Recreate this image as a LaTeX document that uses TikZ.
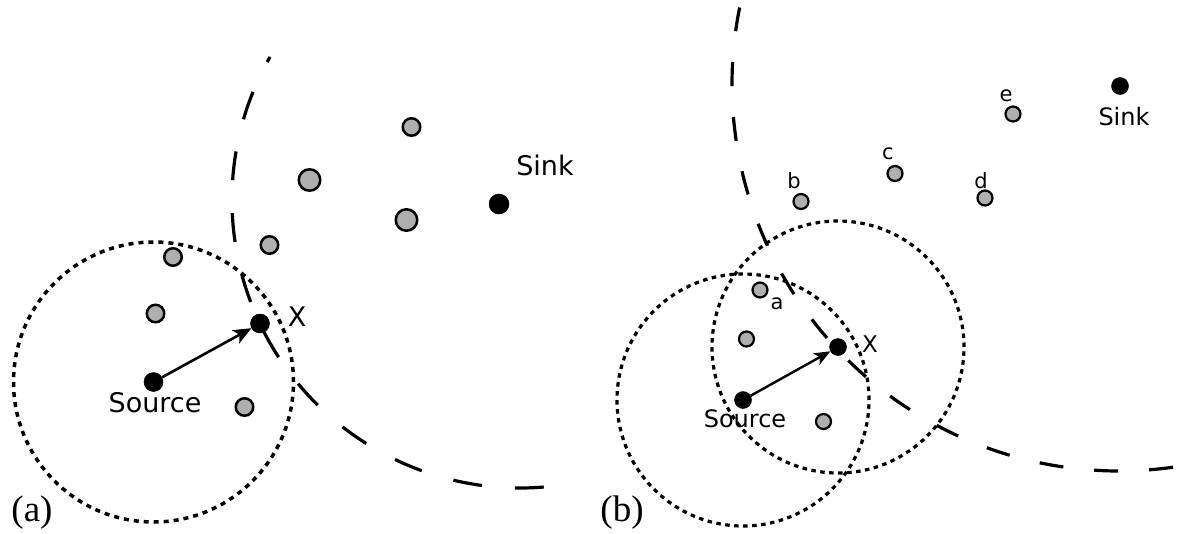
\documentclass[tikz,border=0pt]{standalone}
\usepackage{fontspec}
\setmainfont{DejaVu Sans}
\newfontfamily\capfont{Liberation Serif}
\usetikzlibrary{arrows.meta,calc}
\definecolor{nodegray}{RGB}{175,175,175}
\begin{document}
\begin{tikzpicture}[x=1pt,y=1pt,
  gnode/.style={circle,draw=black,line width=2.5pt,fill=nodegray,inner sep=0pt,minimum size=#1},
  gnode/.default=17.5pt,
  bnode/.style={circle,fill=black,draw=black,line width=0.5pt,inner sep=0pt,minimum size=#1},
  bnode/.default=19pt,
  lblA/.style={inner sep=0pt,font=\fontsize{27}{27}\selectfont},
  lblB/.style={inner sep=0pt,font=\fontsize{24}{24}\selectfont},
  lblS/.style={inner sep=0pt,font=\fontsize{21}{21}\selectfont},
  capt/.style={inner sep=0pt,font=\capfont\fontsize{37}{37}\selectfont},
  dotcirc/.style={line width=3.5pt,dash pattern=on 5pt off 5pt},
  dotcircB/.style={line width=3.2pt,dash pattern=on 4.5pt off 4.5pt},
  dasharc/.style={line width=3.2pt,dash pattern=on 29pt off 33pt,dash phase=23pt},
  dasharcB/.style={line width=3.2pt,dash pattern=on 24pt off 31pt},
  arr/.style={line width=2.6pt,-{Stealth[length=18pt,width=15pt,inset=4.5pt]}},
  arrB/.style={line width=2.4pt,-{Stealth[length=16pt,width=13pt,inset=4pt]}}
]
\clip (0,0) rectangle (1178,-533);
\fill[white] (0,0) rectangle (1178,-533);

% ---------------- panel (a) ----------------
\coordinate (cA) at (520,-200);
\coordinate (sA) at (153.5,-382);
\draw[dotcirc] (sA) circle[radius=140pt];
\draw[dasharc] ($(cA)+(150.2:288pt)$) arc[start angle=150.2,end angle=275,radius=288pt];

\node[gnode] (a1) at (411.5,-127) {};
\node[gnode=21.5pt] (a2) at (309.5,-180) {};
\node[gnode=21.5pt] (a3) at (406.5,-220) {};
\node[gnode] (a4) at (269.5,-245) {};
\node[gnode] (a5) at (173,-257) {};
\node[gnode] (a6) at (155.5,-313.5) {};
\node[gnode] (a7) at (244.5,-407) {};
\node[bnode] (srcA) at (sA) {};
\node[bnode] (xA) at (260,-323.5) {};
\node[bnode=20pt] (sinkA) at (499,-204) {};
\draw[arr] (srcA) -- (xA);

\node[lblA] (tSinkA) at (545,-165.5) {Sink};
\node[lblA] (tXA) at (297,-317) {X};
\node[lblA] (tSrcA) at (155,-402.5) {Source};
\node[capt] (capA) at (32,-513) {(a)};

% ---------------- panel (b) ----------------
\coordinate (cB) at (1119,-84);
\coordinate (sB) at (743,-400);
\coordinate (xB) at (838,-347);
\draw[dotcircB] (sB) circle[radius=126pt];
\draw[dotcircB] (xB) circle[radius=126pt];
\draw[dasharcB] ($(cB)+(168.6:387pt)$) arc[start angle=168.6,end angle=281,radius=387pt];

\node[gnode=15pt,line width=2.2pt] (ba) at (760,-290) {};
\node[gnode=15pt,line width=2.2pt] (b2) at (746.5,-339) {};
\node[gnode=15pt,line width=2.2pt] (b3) at (823.5,-421.5) {};
\node[gnode=15pt,line width=2.2pt] (bb) at (801,-201.5) {};
\node[gnode=15pt,line width=2.2pt] (bc) at (895,-173.5) {};
\node[gnode=15pt,line width=2.2pt] (bd) at (985,-198) {};
\node[gnode=15pt,line width=2.2pt] (be) at (1013,-114) {};
\node[bnode=17pt] (srcB) at (sB) {};
\node[bnode=17pt] (xBn) at (xB) {};
\node[bnode=17pt] (sinkB) at (1120,-86) {};
\draw[arrB] (srcB) -- (xBn);

\node[lblB] (tSinkB) at (1124,-117) {Sink};
\node[lblB,font=\fontsize{23}{23}\selectfont] (tXB) at (870,-344) {X};
\node[lblB] (tSrcB) at (745,-418.5) {Source};
\node[lblS] (la) at (777,-304) {a};
\node[lblS] (lb) at (794,-181) {b};
\node[lblS] (lc) at (888,-154) {c};
\node[lblS] (ld) at (981,-181) {d};
\node[lblS] (le) at (1006,-96) {e};
\node[capt] (capB) at (622,-513) {(b)};
\end{tikzpicture}
\end{document}
